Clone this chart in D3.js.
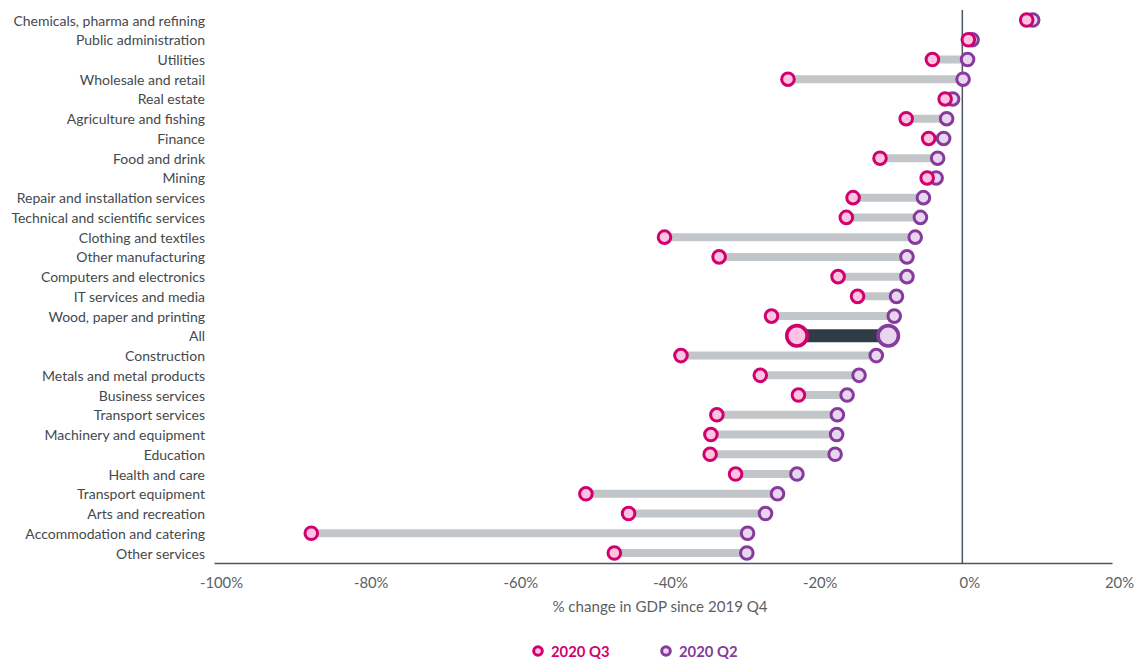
<!DOCTYPE html>
<html>
<head>
<meta charset="utf-8">
<script src="https://cdn.jsdelivr.net/npm/d3@7"></script>
<style>
  html, body { margin: 0; padding: 0; background: #fff; }
  svg { display: block; font-family: Lato, "Open Sans", sans-serif; }
</style>
</head>
<body>
<svg id="chart" width="1142" height="660"></svg>
<script>
const categories = [
  "Chemicals, pharma and refining", "Public administration", "Utilities",
  "Wholesale and retail", "Real estate", "Agriculture and fishing", "Finance",
  "Food and drink", "Mining", "Repair and installation services",
  "Technical and scientific services", "Clothing and textiles",
  "Other manufacturing", "Computers and electronics", "IT services and media",
  "Wood, paper and printing", "All", "Construction", "Metals and metal products",
  "Business services", "Transport services", "Machinery and equipment",
  "Education", "Health and care", "Transport equipment", "Arts and recreation",
  "Accommodation and catering", "Other services"
];
const q3Values = [8.6, 0.8, -4.0, -23.3, -2.3, -7.5, -4.5, -11.0, -4.7, -14.6,
  -15.5, -39.8, -32.5, -16.6, -14.0, -25.5, -22.1, -37.6, -27.0, -21.9,
  -32.8, -33.6, -33.7, -30.3, -50.3, -44.6, -87.0, -46.5];
const q2Values = [9.4, 1.3, 0.7, 0.1, -1.3, -2.1, -2.5, -3.3, -3.5, -5.2,
  -5.6, -6.3, -7.4, -7.4, -8.8, -9.1, -9.9, -11.5, -13.8, -15.4,
  -16.7, -16.8, -17.0, -22.1, -24.7, -26.3, -28.7, -28.8];
const xTicks = [-100, -80, -60, -40, -20, 0, 20];
const seriesNames = ["2020 Q3", "2020 Q2"];

const data = categories.map((c, i) => ({ cat: c, q3: q3Values[i], q2: q2Values[i] }));

const svg = d3.select("#chart");
const x = d3.scaleLinear().domain([-100, 20]).range([214, 1112]);
const y = d3.scalePoint().domain(categories).range([20, 553]);

const c3 = { stroke: "#d1006f", fill: "#fcc4e1" };
const c2 = { stroke: "#853a9c", fill: "#e8d5ef" };

// zero line
svg.append("line")
  .attr("x1", x(0)).attr("x2", x(0))
  .attr("y1", 10).attr("y2", 563)
  .attr("stroke", "#4b5660").attr("stroke-width", 1.5);

// axis
const axis = d3.axisBottom(x).tickValues(xTicks).tickSize(0).tickPadding(14)
  .tickFormat(d => d + "%");
const gAxis = svg.append("g").attr("transform", "translate(0,563)").call(axis);
gAxis.select(".domain").attr("stroke", "#4b5660").attr("stroke-width", 1.5);
gAxis.selectAll("text")
  .attr("dx", 7)
  .attr("fill", "#5a5f64")
  .style("font-size", "14.8px")
  .style("font-family", "Lato, 'Open Sans', sans-serif");

// axis title
svg.append("text")
  .attr("x", 660).attr("y", 612)
  .attr("text-anchor", "middle")
  .attr("fill", "#5a5f64")
  .style("font-size", "15.1px")
  .text("% change in GDP since 2019 Q4");

// category labels
svg.append("g").selectAll("text").data(data).join("text")
  .attr("x", 205).attr("y", d => y(d.cat))
  .attr("text-anchor", "end")
  .attr("dominant-baseline", "central")
  .attr("fill", "#44494e")
  .style("font-size", "14px")
  .text(d => d.cat);

// bars
svg.append("g").selectAll("line").data(data).join("line")
  .attr("x1", d => x(Math.min(d.q3, d.q2)))
  .attr("x2", d => x(Math.max(d.q3, d.q2)))
  .attr("y1", d => y(d.cat)).attr("y2", d => y(d.cat))
  .attr("stroke", d => d.cat === "All" ? "#2f3c46" : "#c3c6c8")
  .attr("stroke-width", d => d.cat === "All" ? 13 : 8);

// Q2 dots
svg.append("g").selectAll("circle").data(data).join("circle")
  .attr("cx", d => x(d.q2)).attr("cy", d => y(d.cat))
  .attr("r", d => d.cat === "All" ? 10.2 : 6.3)
  .attr("fill", c2.fill).attr("stroke", c2.stroke)
  .attr("stroke-width", d => d.cat === "All" ? 3.6 : 3);

// Q3 dots
svg.append("g").selectAll("circle").data(data).join("circle")
  .attr("cx", d => x(d.q3)).attr("cy", d => y(d.cat))
  .attr("r", d => d.cat === "All" ? 10.2 : 6.3)
  .attr("fill", c3.fill).attr("stroke", c3.stroke)
  .attr("stroke-width", d => d.cat === "All" ? 3.6 : 3);

// legend
const legendX = [538, 666];
const legendColors = [c3, c2];
const lg = svg.append("g").selectAll("g").data(seriesNames).join("g")
  .attr("transform", (d, i) => `translate(${legendX[i]},651)`);
lg.append("circle").attr("r", 4.3)
  .attr("fill", (d, i) => legendColors[i].fill)
  .attr("stroke", (d, i) => legendColors[i].stroke)
  .attr("stroke-width", 3);
lg.append("text")
  .attr("x", 13).attr("dominant-baseline", "central")
  .attr("fill", (d, i) => legendColors[i].stroke)
  .style("font-size", "14.8px").style("font-weight", "bold")
  .text(d => d);
</script>
</body>
</html>
